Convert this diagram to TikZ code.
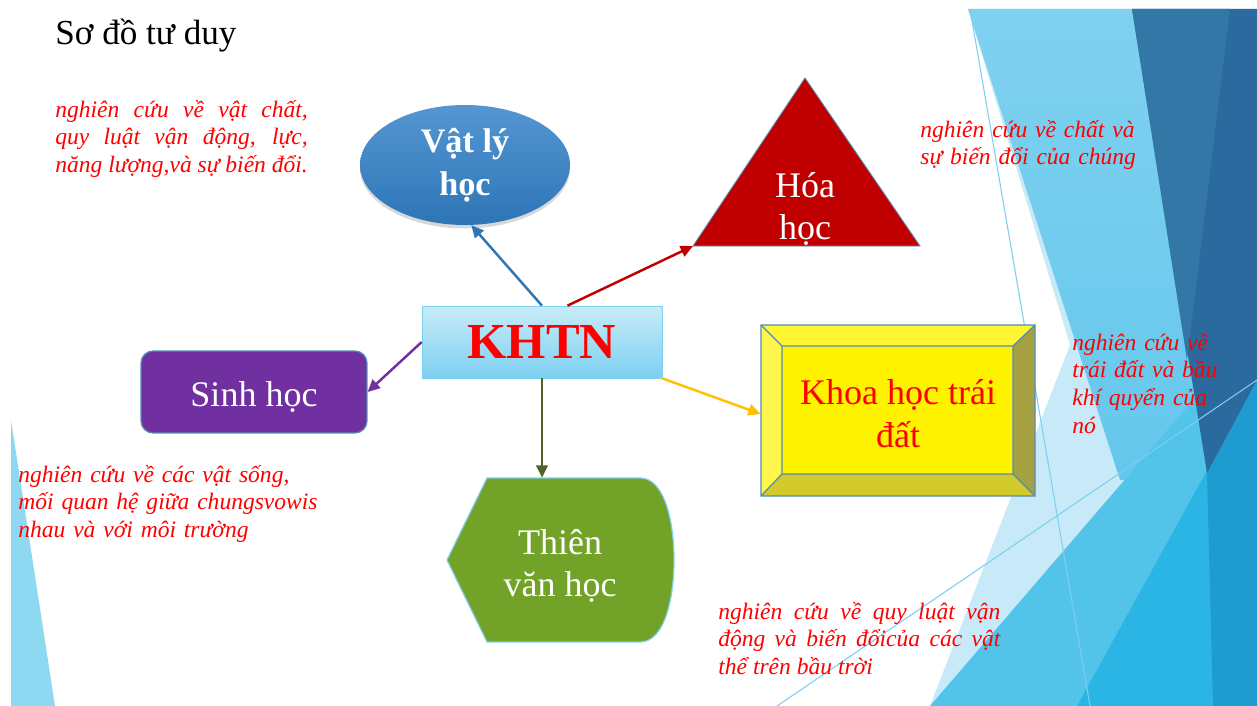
\documentclass[tikz,border=0pt]{standalone}
\usepackage{fontspec}
\setmainfont{Liberation Serif}
\usetikzlibrary{arrows.meta,shapes.geometric,shadows}

\definecolor{nenNhat}{RGB}{200,234,248}
\definecolor{nenXanhTren}{RGB}{128,209,240}
\definecolor{nenXanhDuoi}{RGB}{100,199,236}
\definecolor{nenVua}{RGB}{82,196,234}
\definecolor{nenSang}{RGB}{42,181,229}
\definecolor{nenDam}{RGB}{30,155,207}
\definecolor{nenToi}{RGB}{42,106,159}
\definecolor{nenToiNhat}{RGB}{50,119,166}
\definecolor{nenVien}{RGB}{125,206,240}
\definecolor{nenTrai}{RGB}{143,216,242}
\definecolor{xanhVL}{RGB}{46,117,182}
\definecolor{doHoa}{RGB}{192,0,0}
\definecolor{timSH}{RGB}{112,48,160}
\definecolor{xanhLa}{RGB}{79,98,40}
\definecolor{camTD}{RGB}{255,192,0}
\definecolor{xanhTV}{RGB}{114,163,40}
\definecolor{vienKhoi}{RGB}{84,141,180}
\definecolor{vienNhat}{RGB}{125,208,240}

\begin{document}
\begin{tikzpicture}[
        x=0.02cm, y=-0.02cm,
        every node/.style={inner sep=0pt},
        ghichu/.style={font=\fontsize{13.4}{15.9}\selectfont\itshape, text=red, anchor=base west},
        chude/.style={font=\fontsize{20.5}{24.4}\selectfont, text=white, align=center},
        muiten/.style={-{Triangle[length=7pt,width=6.5pt]}, line width=1.4pt}
    ]
    \useasboundingbox (0,0) rectangle (1257,706);

    % Nen
    \fill[white] (0,0) rectangle (1257,706);
    \fill[nenNhat] (968,9) -- (1257,9) -- (1257,706) -- (930,706) -- (1070,345) -- cycle;
    \shade[top color=nenXanhTren, bottom color=nenXanhDuoi] (968,9) -- (1132,9) -- (1210,480) -- (1120,480) -- cycle;
    \fill[nenVua] (930,706) -- (1257,326) -- (1257,706) -- cycle;
    \fill[nenSang] (1257,380) -- (1077,706) -- (1257,706) -- cycle;
    \fill[nenDam] (1207,473) -- (1257,380) -- (1257,706) -- (1213,706) -- cycle;
    \fill[nenToi] (1132,9) -- (1257,9) -- (1257,380) -- (1207,473) -- cycle;
    \fill[nenToiNhat] (1132,9) -- (1230,9) -- (1187,360) -- cycle;
    \draw[nenVien, line width=0.6pt] (970,9) -- (1090,706);
    \draw[nenVien, line width=0.6pt] (777,706) -- (1257,380);
    \fill[nenTrai] (11,420) -- (55,706) -- (11,706) -- cycle;

    % Tieu de
    \node[font=\fontsize{20}{24}\selectfont, anchor=base west] (tieuDe) at (55,45) {Sơ đồ tư duy};

    % Chu de trung tam
    \node[draw=vienNhat, top color={rgb,255:red,200;green,235;blue,249}, bottom color=vienNhat,
          minimum width=4.8cm, minimum height=1.44cm,
          font=\fontsize{28.7}{30}\selectfont\bfseries, text=red] (khtn) at (542,342) {KHTN};

    % Vat ly
    \node[ellipse, top color={rgb,255:red,84;green,150;blue,210}, bottom color=xanhVL,
          drop shadow={shadow xshift=0pt, shadow yshift=-2pt, opacity=0.3},
          minimum width=4.2cm, minimum height=2.4cm, chude,
          font=\fontsize{19.5}{24.4}\selectfont\bfseries] (vatLy) at (465,165) {Vật lý\\học};

    % Hoa hoc
    \filldraw[fill=doHoa, draw=vienKhoi, line width=0.5pt] (805,78) -- (920,246) -- (693,246) -- cycle;
    \coordinate (hoaGoc) at (693,246);
    \node[chude] (hoaHoc) at (805,209) {Hóa\\học};

    % Sinh hoc
    \node[fill=timSH, draw=vienKhoi, line width=0.7pt, rounded corners=0.24cm,
          minimum width=4.52cm, minimum height=1.64cm] (sinhHoc) at (254,392) {};
    \node[chude] (chuSinhHoc) at (254,397) {Sinh học};

    % Khoa hoc trai dat
    \fill[yellow!80!white] (761,325) -- (1035,325) -- (1013,346) -- (782,346) -- cycle;
    \fill[yellow!70!white] (761,325) -- (782,346) -- (782,474) -- (761,496) -- cycle;
    \fill[yellow!60!black] (1035,325) -- (1035,496) -- (1013,474) -- (1013,346) -- cycle;
    \fill[yellow!80!black] (761,496) -- (782,474) -- (1013,474) -- (1035,496) -- cycle;
    \fill[yellow] (782,346) rectangle (1013,474);
    \draw[vienKhoi, line width=0.7pt] (761,325) rectangle (1035,496)
        (782,346) rectangle (1013,474)
        (761,325) -- (782,346) (1035,325) -- (1013,346)
        (761,496) -- (782,474) (1035,496) -- (1013,474);
    \node[minimum width=5.48cm, minimum height=3.42cm, chude, text=red] (traiDat) at (898,414) {Khoa học trái\\đất};

    % Thien van hoc
    \filldraw[fill=xanhTV, draw=vienNhat, line width=0.7pt]
        (487,478) -- (640,478) .. controls (664,478) and (674,520) .. (674,560)
        .. controls (674,600) and (664,642) .. (640,642) -- (487,642) -- (447,560) -- cycle;
    \node[chude, minimum width=4.54cm, minimum height=3.52cm] (thienVan) at (560,566) {Thiên\\văn học};

    % Mui ten
    \draw[muiten, xanhVL] (khtn.north) -- (vatLy.-84);
    \draw[muiten, doHoa] (khtn.55) -- (hoaGoc);
    \draw[muiten, timSH] (khtn.west) -- (sinhHoc.east);
    \draw[muiten, xanhLa] (khtn.south) -- (khtn.south |- thienVan.north);
    \draw[muiten, camTD] (khtn.south east) -- (traiDat.west);

    % Ghi chu
    \node[ghichu, text width=5.05cm, align=justify] (ghiVatLy) at (55,117)
        {nghiên cứu về vật chất,\linebreak quy luật vận động, lực,\linebreak năng lượng,và sự biến đổi.};
    \node[ghichu, text width=5cm, align=left] (ghiHoaHoc) at (920,137) {nghiên cứu về chất và\\sự biến đổi của chúng};
    \node[ghichu, text width=3.4cm, align=left] (ghiTraiDat) at (1072,350) {nghiên cứu về\\trái đất và bầu\\khí quyển của\\nó};
    \node[ghichu, text width=6.6cm, align=left] (ghiSinhHoc) at (18,482) {nghiên cứu về các vật sống,\\mối quan hệ giữa chungsvowis\\nhau và với môi trường};
    \node[ghichu, text width=5.64cm, align=justify] (ghiThienVan) at (718,619)
        {nghiên cứu về quy luật vận\linebreak động và biến đổicủa các vật\linebreak thể trên bầu trời};
\end{tikzpicture}
\end{document}
